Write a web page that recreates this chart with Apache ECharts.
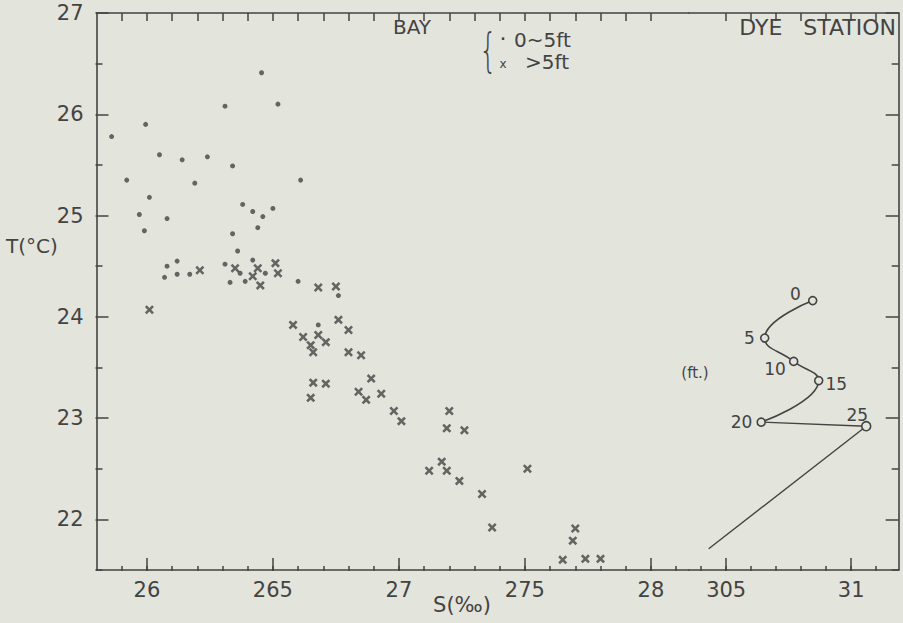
<!DOCTYPE html>
<html><head><meta charset="utf-8">
<script src="https://cdn.jsdelivr.net/npm/echarts@6/dist/echarts.min.js"></script>
<style>html,body{margin:0;padding:0;background:#e3e4db;}#c{width:903px;height:623px;}</style>
</head><body><div id="c"></div>
<script>
// ---- data: [S (‰), T (°C)] ----
const bayShallow = [
 [26.455,26.41],[26.31,26.08],[26.52,26.10],[25.995,25.90],[25.86,25.78],[26.05,25.60],[26.14,25.55],
 [26.24,25.58],[26.34,25.49],[26.61,25.35],[25.92,25.35],[26.19,25.32],[26.01,25.18],[26.38,25.11],
 [26.42,25.04],[26.50,25.07],[26.46,24.99],[25.97,25.01],[26.08,24.97],[25.99,24.85],[26.34,24.82],
 [26.44,24.88],[26.36,24.65],[26.08,24.50],[26.12,24.55],[26.07,24.39],[26.12,24.42],[26.17,24.42],
 [26.31,24.52],[26.37,24.43],[26.42,24.56],[26.47,24.43],[26.33,24.34],[26.39,24.35],[26.60,24.35],
 [26.76,24.21],[26.68,23.92]
];
const bayDeep = [
 [26.21,24.46],[26.35,24.48],[26.44,24.48],[26.42,24.40],[26.51,24.53],[26.52,24.43],[26.45,24.31],
 [26.68,24.29],[26.75,24.30],[26.01,24.07],[26.58,23.92],[26.76,23.97],[26.80,23.87],[26.62,23.80],
 [26.68,23.82],[26.65,23.72],[26.71,23.75],[26.66,23.65],[26.80,23.65],[26.85,23.62],[26.89,23.39],
 [26.66,23.35],[26.71,23.34],[26.65,23.20],[26.84,23.26],[26.87,23.18],[26.93,23.24],[26.98,23.07],
 [27.01,22.97],[27.20,23.07],[27.19,22.90],[27.26,22.88],[27.17,22.57],[27.12,22.48],[27.19,22.48],
 [27.24,22.38],[27.33,22.25],[27.37,21.92],[27.51,22.50],[27.70,21.91],[27.69,21.79],[27.65,21.60],
 [27.74,21.61],[27.80,21.61]
];
const dyeDepths = ['0','5','10','15','20','25'];
const dyeS = [30.846,30.654,30.77,30.87,30.64,31.06];
const dyeT = [24.16,23.79,23.56,23.37,22.96,22.92];
const dyeTail = [30.43,21.71];

// ---- axis ranges, ticks and labels ----
const tRange = [21.5,27];
const sBayRange = [25.8,28.15];
const sDyeRange = [30.35,31.19];
const yMajor = [22,27];          // labelled every 1
const xMajorBay = [26,26.5,27,27.5,28];
const xLabelsBay = ['26','265','27','275','28'];
const xMajorDye = [30.5,31];
const xLabelsDye = ['305','31'];

const INK = '#434343';
const BG = '#e3e4db';
const FONT = 'DejaVu Sans';

// ---- layout (pixels) ----
const FL = 96.5, FT = 13, FH = 557, FB = FT + FH;
const PX_S = 252, PX_D = 250, PX_T = FH/(tRange[1]-tRange[0]);
const BREAK = FL + (sBayRange[1]-sBayRange[0])*PX_S;
const xBay = s => FL + (s-sBayRange[0])*PX_S;
const xDye = s => BREAK + (s-sDyeRange[0])*PX_D;
const FR = xDye(sDyeRange[1]);
const yT = t => FT + (tRange[1]-t)*PX_T;

const grids = [], xAxes = [], yAxes = [];
function hiddenAxis(g){ return {type:'value',gridIndex:g,show:false,min:0,max:1}; }
function addGrid(g){ grids.push(Object.assign({outerBoundsMode:'none',containLabel:false},g)); return grids.length-1; }
function lineStyle(){ return {show:true,onZero:false,lineStyle:{color:INK,width:1.6}}; }
function tickStyle(len){ return {show:true,inside:false,length:len,lineStyle:{color:INK,width:1.5}}; }
function labelMap(vals,texts){ return v => { const i = vals.findIndex(x=>Math.abs(x-v)<1e-6); return i>=0 ? texts[i] : ''; }; }

// data grids (frame lines only)
const gBay = addGrid({left:FL,top:FT,width:BREAK-FL,height:FH});
const gDye = addGrid({left:BREAK,top:FT,width:FR-BREAK,height:FH});
[gBay,gDye].forEach((g,k)=>{
  const r = k===0 ? sBayRange : sDyeRange;
  ['bottom','top'].forEach(p=>xAxes.push({type:'value',gridIndex:g,min:r[0],max:r[1],position:p,
    axisLine:lineStyle(),axisTick:{show:false},axisLabel:{show:false},splitLine:{show:false}}));
  yAxes.push({type:'value',gridIndex:g,min:tRange[0],max:tRange[1],position:k===0?'left':'right',
    axisLine:lineStyle(),axisTick:{show:false},axisLabel:{show:false},splitLine:{show:false}});
});
const X_BAY = 0, X_DYE = 2, Y_BAY = 0, Y_DYE = 1;

// Tick axes live in 1-px grids placed just outside the frame, so their outward
// ticks point into the plot.  n evenly spaced intervals between x0 and x1.
function xTicks(x0,x1,n,side,len){
  const g = addGrid(side==='bottom' ? {left:x0,width:x1-x0,top:FB,height:1}
                                    : {left:x0,width:x1-x0,top:FT-1,height:1});
  xAxes.push({type:'value',gridIndex:g,min:0,max:n,interval:1,position:side==='bottom'?'top':'bottom',
    axisLine:{show:false},axisTick:tickStyle(len),axisLabel:{show:false},splitLine:{show:false}});
  yAxes.push(hiddenAxis(g));
}
function yTicks(t0,t1,n,side,len){
  const g = addGrid(side==='left' ? {left:FL-1,width:1,top:yT(t1),height:yT(t0)-yT(t1)}
                                  : {left:FR,width:1,top:yT(t1),height:yT(t0)-yT(t1)});
  yAxes.push({type:'value',gridIndex:g,min:0,max:n,interval:1,position:side==='left'?'right':'left',
    axisLine:{show:false},axisTick:tickStyle(len),axisLabel:{show:false},splitLine:{show:false}});
  xAxes.push(hiddenAxis(g));
}
// label-only axes
function xLabels(vals,texts,xf){
  const g = addGrid({left:xf(vals[0]),width:xf(vals[vals.length-1])-xf(vals[0]),top:FT,height:FH});
  xAxes.push({type:'value',gridIndex:g,min:vals[0],max:vals[vals.length-1],interval:0.5,position:'bottom',
    axisLine:{show:false},axisTick:{show:false},
    axisLabel:{show:true,formatter:labelMap(vals,texts),color:INK,fontSize:21,fontFamily:FONT,margin:9},
    splitLine:{show:false}});
  yAxes.push(hiddenAxis(g));
}
xLabels(xMajorBay,xLabelsBay,xBay);
xLabels(xMajorDye,xLabelsDye,xDye);
(function(){
  const g = addGrid({left:FL,width:BREAK-FL,top:yT(yMajor[1]),height:yT(yMajor[0])-yT(yMajor[1])});
  yAxes.push({type:'value',gridIndex:g,min:yMajor[0],max:yMajor[1],interval:1,position:'left',
    axisLine:{show:false},axisTick:{show:false},
    axisLabel:{show:true,color:INK,fontSize:21,fontFamily:FONT,margin:13},splitLine:{show:false}});
  xAxes.push(hiddenAxis(g));
})();
// bottom: majors every 0.5 and minors every 0.1
xTicks(xBay(26),xBay(28),4,'bottom',13);
xTicks(xBay(25.9),xBay(28.1),22,'bottom',5);
xTicks(xDye(30.5),xDye(31),1,'bottom',13);
xTicks(xDye(30.4),xDye(31.1),7,'bottom',5);
// top: every 0.1
xTicks(xBay(25.9),xBay(28.0),21,'top',8);
xTicks(xDye(30.5),xDye(31.1),6,'top',8);
// left / right: majors every 1, minors at the halves
yTicks(22,27,5,'left',13);
yTicks(21.5,26.5,5,'left',7);
yTicks(22,27,5,'right',13);
yTicks(21.5,26.5,5,'right',7);

// ---- dye station profile ----
const dyeUpper = [0,1,2,3,4].map(i=>({value:[dyeS[i],dyeT[i]],name:dyeDepths[i]}));
const labelPos = [
  {position:'left',distance:7,offset:[0,-7]},
  {position:'left',distance:5,offset:[0,0]},
  {position:'left',distance:3,offset:[0,8]},
  {position:'right',distance:2,offset:[0,3]},
  {position:'left',distance:4,offset:[0,0]}
];
dyeUpper.forEach((d,i)=>{ d.label = Object.assign({show:true},labelPos[i]); });
const dyeLower = [
  {value:[dyeS[4],dyeT[4]],symbol:'none'},
  {value:[dyeS[5],dyeT[5]],name:dyeDepths[5],label:{show:true,position:'top',distance:0,offset:[-9,3]}},
  {value:dyeTail,symbol:'none'}
];

const chart = echarts.init(document.getElementById('c'),null,{renderer:'svg'});
chart.setOption({
  backgroundColor: BG,
  animation:false,
  grid: grids,
  xAxis: xAxes,
  yAxis: yAxes,
  series:[
    {type:'scatter',name:'0~5ft',xAxisIndex:X_BAY,yAxisIndex:Y_BAY,data:bayShallow,symbol:'circle',symbolSize:5,
     itemStyle:{color:INK},z:3},
    {type:'scatter',name:'>5ft',xAxisIndex:X_BAY,yAxisIndex:Y_BAY,data:bayDeep,
     symbol:'path://M2,0L5,3L8,0L10,2L7,5L10,8L8,10L5,7L2,10L0,8L3,5L0,2Z',symbolSize:9,
     itemStyle:{color:INK},z:3},
    {type:'line',name:'dye',xAxisIndex:X_DYE,yAxisIndex:Y_DYE,data:dyeUpper,smooth:0.5,
     symbol:'circle',symbolSize:8,itemStyle:{color:BG,borderColor:INK,borderWidth:1.6},
     lineStyle:{color:INK,width:1.6},
     label:{show:true,formatter:p=>p.name,color:INK,fontSize:17,fontFamily:FONT},z:4},
    {type:'line',name:'dye2',xAxisIndex:X_DYE,yAxisIndex:Y_DYE,data:dyeLower,smooth:false,
     symbol:'circle',symbolSize:9,itemStyle:{color:BG,borderColor:INK,borderWidth:1.6},
     lineStyle:{color:INK,width:1.4},
     label:{formatter:p=>p.name||'',color:INK,fontSize:17,fontFamily:FONT},z:3}
  ],
  graphic:[
    {type:'text',x:412,y:27,style:{text:'BAY',fill:INK,fontSize:20,fontFamily:FONT,align:'center',verticalAlign:'middle'}},
    {type:'text',x:488,y:50,scaleX:0.6,style:{text:'{',fill:INK,fontSize:46,fontFamily:FONT,fontWeight:200,align:'center',verticalAlign:'middle'}},
    {type:'text',x:503,y:38,style:{text:'·',fill:INK,fontSize:22,fontFamily:FONT,align:'center',verticalAlign:'middle'}},
    {type:'text',x:514,y:40,style:{text:'0~5ft',fill:INK,fontSize:20,fontFamily:FONT,align:'left',verticalAlign:'middle'}},
    {type:'text',x:503,y:64,style:{text:'x',fill:INK,fontSize:12,fontFamily:FONT,align:'center',verticalAlign:'middle'}},
    {type:'text',x:525,y:62,style:{text:'>5ft',fill:INK,fontSize:20,fontFamily:FONT,align:'left',verticalAlign:'middle'}},
    {type:'text',x:896,y:27,style:{text:'DYE   STATION',fill:INK,fontSize:22,fontFamily:FONT,align:'right',verticalAlign:'middle'}},
    {type:'text',x:695,y:373,style:{text:'(ft.)',fill:INK,fontSize:15,fontFamily:FONT,align:'center',verticalAlign:'middle'}},
    {type:'text',x:6,y:246,style:{text:'T(°C)',fill:INK,fontSize:20,fontFamily:FONT,align:'left',verticalAlign:'middle'}},
    {type:'text',x:462,y:605,style:{text:'S(‰)',fill:INK,fontSize:21,fontFamily:FONT,align:'center',verticalAlign:'middle'}}
  ]
});
</script>
</body></html>
